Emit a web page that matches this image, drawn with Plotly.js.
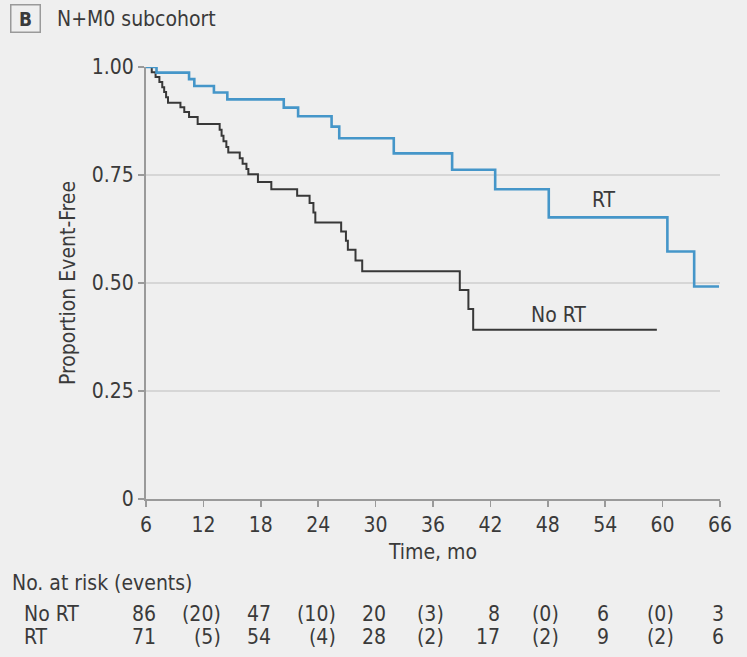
<!DOCTYPE html>
<html>
<head>
<meta charset="utf-8">
<script src="https://cdn.plot.ly/plotly-3.0.1.min.js"></script>
<style>
  html, body { margin: 0; padding: 0; background: #efefef; }
  #chart { width: 747px; height: 657px; }
</style>
</head>
<body>
<div id="chart"></div>
<script>
// Kaplan-Meier event-free survival, N+M0 subcohort
const noRtTimes = [6, 6.6, 7.0, 7.4, 7.7, 7.9, 8.1, 8.3, 9.6, 10.0, 10.5, 11.4, 13.7, 13.9, 14.1, 14.4, 14.6,
  15.8, 16.1, 16.5, 16.7, 17.7, 19.1, 21.8, 23.1, 23.5, 23.7, 26.4, 26.9, 27.1, 27.9, 28.6, 38.8, 39.7, 40.2, 59.4];
const noRtSurv = [1, 0.988, 0.977, 0.965, 0.953, 0.942, 0.930, 0.917, 0.907, 0.896, 0.884, 0.868, 0.855, 0.841, 0.828, 0.815, 0.802,
  0.789, 0.776, 0.764, 0.752, 0.734, 0.717, 0.702, 0.685, 0.663, 0.640, 0.619, 0.598, 0.577, 0.552, 0.527, 0.484, 0.440, 0.392, 0.392];

const rtTimes = [6, 7.1, 10.5, 11.05, 13.1, 14.5, 20.4, 21.9, 25.4, 26.2, 31.9, 38.0, 42.5, 48.1, 60.5, 63.3, 65.9];
const rtSurv = [1, 0.987, 0.972, 0.956, 0.941, 0.925, 0.906, 0.886, 0.862, 0.835, 0.800, 0.762, 0.717, 0.652, 0.573, 0.492, 0.492];

// Axis ticks
const xTicks = [6, 12, 18, 24, 30, 36, 42, 48, 54, 60, 66];
const yTicks = [0, 0.25, 0.5, 0.75, 1];
const yTickText = ['0', '0.25', '0.50', '0.75', '1.00'];

// Number at risk (events)
const groups = ['No RT', 'RT'];
const riskTimes = [6, 18, 30, 42, 54, 66];
const noRtAtRisk = [86, 47, 20, 8, 6, 3];
const rtAtRisk = [71, 54, 28, 17, 9, 6];
const eventTimes = [12, 24, 36, 48, 60];
const noRtEvents = [20, 10, 3, 0, 0];
const rtEvents = [5, 4, 2, 2, 2];

const FONT = '"Liberation Sans Narrow", "DejaVu Sans Condensed", "Roboto", sans-serif';
const FS = 21;
const TXT = '#3a3a3a';
const BG = '#efefef';

// plot-area geometry (px)
const M = { l: 146, r: 27, t: 67, b: 158 };
const W = 747, H = 657;
const plotH = H - M.t - M.b, plotW = W - M.l - M.r;
const py2paper = py => (H - M.b - py) / plotH;
const px2paper = px => (px - M.l) / plotW;

// text width, used to right-align each risk-table column about its tick
const cv = document.createElement('canvas').getContext('2d');
function textW(s) { cv.font = FS + 'px ' + FONT; return cv.measureText(s).width; }

const traces = [
  { x: noRtTimes, y: noRtSurv, mode: 'lines', line: { shape: 'hv', color: '#383838', width: 2 },
    cliponaxis: false, hoverinfo: 'skip', showlegend: false },
  { x: rtTimes, y: rtSurv, mode: 'lines', line: { shape: 'hv', color: '#4596c9', width: 2.6 },
    cliponaxis: false, hoverinfo: 'skip', showlegend: false }
];

const annotations = [];
const font = { family: FONT, size: FS, color: TXT };

// panel letter and subtitle
annotations.push({ xref: 'paper', yref: 'paper', x: px2paper(25), y: py2paper(19), xanchor: 'center', yanchor: 'middle',
  text: '<b>B</b>', showarrow: false, font: { family: FONT, size: 19, color: TXT },
  bordercolor: '#9a9a9a', borderwidth: 1.5, borderpad: 3, width: 22, height: 20 });
annotations.push({ xref: 'paper', yref: 'paper', x: px2paper(55), y: py2paper(19), xanchor: 'left', yanchor: 'middle',
  text: 'N+M0 subcohort', showarrow: false, font: font });

// curve labels
annotations.push({ xref: 'x', yref: 'y', x: 53.9, y: 0.692, text: 'RT', showarrow: false, font: font });
annotations.push({ xref: 'x', yref: 'y', x: 49.1, y: 0.427, text: 'No RT', showarrow: false, font: font });

// number-at-risk table
annotations.push({ xref: 'paper', yref: 'paper', x: px2paper(10), y: py2paper(583), xanchor: 'left', yanchor: 'middle',
  text: 'No. at risk (events)', showarrow: false, font: font });
const rowY = [614, 637];
groups.forEach((g, i) => {
  annotations.push({ xref: 'paper', yref: 'paper', x: px2paper(22), y: py2paper(rowY[i]), xanchor: 'left', yanchor: 'middle',
    text: g, showarrow: false, font: font });
});
function addColumn(t, vals) {
  const w = Math.max(...vals.map(textW));
  vals.forEach((v, i) => {
    annotations.push({ xref: 'x', yref: 'paper', x: t, y: py2paper(rowY[i]), xanchor: 'right', yanchor: 'middle',
      xshift: w / 2, text: v, showarrow: false, font: font });
  });
}
riskTimes.forEach((t, k) => addColumn(t, [String(noRtAtRisk[k]), String(rtAtRisk[k])]));
eventTimes.forEach((t, k) => addColumn(t, ['(' + noRtEvents[k] + ')', '(' + rtEvents[k] + ')']));

const layout = {
  width: W, height: H,
  margin: M,
  paper_bgcolor: BG, plot_bgcolor: BG,
  font: font,
  showlegend: false,
  xaxis: {
    range: [6, 66], tickvals: xTicks, ticktext: xTicks.map(String),
    showgrid: false, zeroline: false,
    showline: true, linecolor: '#9a9a9a', linewidth: 2,
    ticks: 'outside', ticklen: 6, tickwidth: 1.5, tickcolor: '#9a9a9a',
    tickfont: font,
    title: { text: 'Time, mo', font: font, standoff: 8 }
  },
  yaxis: {
    range: [0, 1], tickvals: yTicks, ticktext: yTickText,
    showgrid: true, gridcolor: '#d6d6d6', gridwidth: 1.5,
    zeroline: false,
    showline: true, linecolor: '#9a9a9a', linewidth: 2,
    ticks: 'outside', ticklen: 6, tickwidth: 1.5, tickcolor: '#9a9a9a',
    tickfont: font,
    title: { text: 'Proportion Event-Free', font: font, standoff: 10 }
  },
  annotations: annotations
};

Plotly.newPlot('chart', traces, layout, { staticPlot: true, displayModeBar: false });
</script>
</body>
</html>
